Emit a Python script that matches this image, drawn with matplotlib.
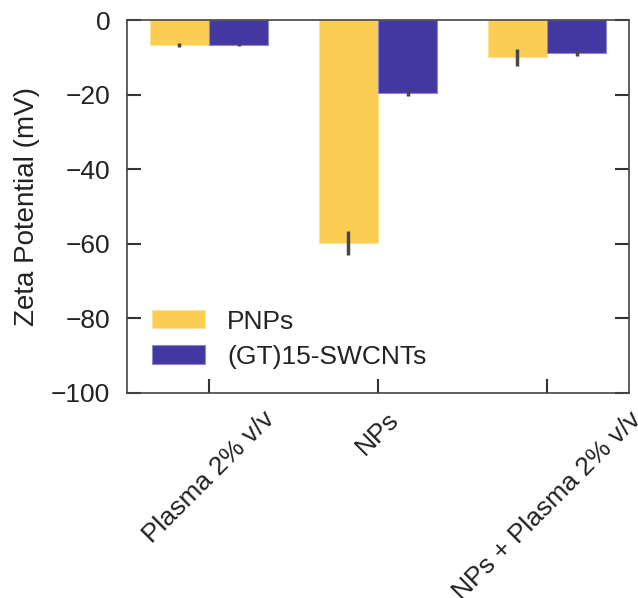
import matplotlib
matplotlib.use("Agg")
import matplotlib.pyplot as plt
import numpy as np

categories = ["Plasma 2% v/v", "NPs", "NPs + Plasma 2% v/v"]
series_names = ["PNPs", "(GT)15-SWCNTs"]
pnps = [-6.7, -59.8, -10.0]
pnps_err = [0.6, 3.2, 2.2]
swcnt = [-6.6, -19.5, -8.8]
swcnt_err = [0.3, 1.0, 0.8]
yticks = [0, -20, -40, -60, -80, -100]

plt.rcParams['font.family'] = ['Liberation Sans', 'DejaVu Sans']
plt.rcParams['font.size'] = 19

fig = plt.figure(figsize=(6.38, 5.98), dpi=100)
ax = fig.add_axes([127/638, 1 - 393/598, 502/638, 373/598])

x = np.arange(len(categories))
w = 0.35
ecol = '#474747'
ax.bar(x - w/2, pnps, w, color='#FBCD52', edgecolor='#FDE09A', linewidth=0.8,
       yerr=pnps_err, error_kw=dict(ecolor=ecol, elinewidth=2.5, capsize=0), label=series_names[0])
ax.bar(x + w/2, swcnt, w, color='#4338A2', edgecolor='#8F88CC', linewidth=0.8,
       yerr=swcnt_err, error_kw=dict(ecolor=ecol, elinewidth=2.5, capsize=0), label=series_names[1])

ax.set_xlim(-0.485, 2.485)
ax.set_ylim(-100, 0)
ax.set_yticks(yticks)
ax.set_yticklabels([f"{v}".replace('-', '\u2212') for v in yticks])
ax.set_xticks(x)
ax.set_xticklabels(categories, rotation=45, ha='center')
ax.tick_params(axis='y', direction='in', right=True, length=10, width=1.5, labelsize=19, pad=12, colors='#333333')
ax.tick_params(axis='x', direction='in', length=10, width=1.5, labelsize=19, pad=10, colors='#333333')
for lab in ax.get_xticklabels() + ax.get_yticklabels():
    lab.set_color('#222222')
for s in ax.spines.values():
    s.set_linewidth(1.2)
    s.set_color('#444444')
ax.set_ylabel("Zeta Potential (mV)", fontsize=20, labelpad=8, color='#222222')

leg = ax.legend(loc='lower left', bbox_to_anchor=(0.05, 0.065), frameon=False, fontsize=19,
                borderpad=0, borderaxespad=0,
                handlelength=2.0, handleheight=0.68, labelspacing=0.42, handletextpad=0.85)
for t in leg.get_texts():
    t.set_color('#222222')

fig.savefig("out.png", dpi=100)
